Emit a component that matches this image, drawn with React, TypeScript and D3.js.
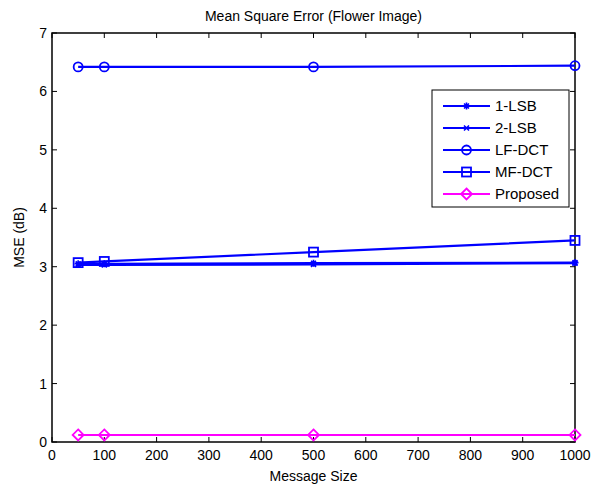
import React from 'react';
import * as d3 from 'd3';

// message sizes on the x axis
const sizes = [50, 100, 500, 1000];

// MSE values per method
const lsb1 = [3.05, 3.05, 3.06, 3.07];
const lsb2 = [3.03, 3.03, 3.04, 3.06];
const lfDct = [6.42, 6.42, 6.42, 6.44];
const mfDct = [3.07, 3.09, 3.25, 3.45];
const proposed = [0.12, 0.12, 0.12, 0.12];

const xTicks = [0, 100, 200, 300, 400, 500, 600, 700, 800, 900, 1000];
const yTicks = [0, 1, 2, 3, 4, 5, 6, 7];

const series = [
  { name: '1-LSB', values: lsb1, color: '#0000ff', marker: 'star' },
  { name: '2-LSB', values: lsb2, color: '#0000ff', marker: 'x' },
  { name: 'LF-DCT', values: lfDct, color: '#0000ff', marker: 'circle' },
  { name: 'MF-DCT', values: mfDct, color: '#0000ff', marker: 'square' },
  { name: 'Proposed', values: proposed, color: '#ff00ff', marker: 'diamond' },
];

const W = 601;
const H = 488;
const M = { top: 33, right: 26, bottom: 46, left: 52 };
const FONT = 'Liberation Sans, Arial, sans-serif';

function Marker({ type, x, y, color }: { type: string; x: number; y: number; color: string }) {
  const sw = 1.8;
  if (type === 'circle') return <circle cx={x} cy={y} r={4.5} fill="none" stroke={color} strokeWidth={sw} />;
  if (type === 'square') return <rect x={x - 4.5} y={y - 4.5} width={9} height={9} fill="none" stroke={color} strokeWidth={sw} />;
  if (type === 'diamond') return <path d={`M${x},${y - 5.5}L${x + 5.5},${y}L${x},${y + 5.5}L${x - 5.5},${y}Z`} fill="none" stroke={color} strokeWidth={sw} />;
  if (type === 'x') {
    const s = 2.5;
    return <path d={`M${x - s},${y - s}L${x + s},${y + s}M${x - s},${y + s}L${x + s},${y - s}`} stroke={color} strokeWidth={1.6} />;
  }
  // asterisk
  const s = 3.5;
  return (
    <path
      d={`M${x - s},${y}L${x + s},${y}M${x},${y - s}L${x},${y + s}M${x - s * 0.7},${y - s * 0.7}L${x + s * 0.7},${y + s * 0.7}M${x - s * 0.7},${y + s * 0.7}L${x + s * 0.7},${y - s * 0.7}`}
      stroke={color}
      strokeWidth={1.6}
    />
  );
}

export default function App() {
  const x = d3.scaleLinear().domain([0, 1000]).range([M.left, W - M.right]);
  const y = d3.scaleLinear().domain([0, 7]).range([H - M.bottom, M.top]);
  const line = d3
    .line<number>()
    .x((_, i) => x(sizes[i]))
    .y((d) => y(d));

  const x0 = M.left;
  const x1 = W - M.right;
  const y0 = H - M.bottom;
  const y1 = M.top;
  const tk = 5;

  // legend box
  const lg = { x: 432, y: 90, w: 137, h: 117 };
  const rowH = 22;

  return (
    <svg width={W} height={H} style={{ position: 'absolute', left: 0, top: 0, background: '#fff' }} fontFamily={FONT}>
      <rect width={W} height={H} fill="#fff" />
      {/* ticks */}
      {xTicks.map((t) => (
        <g key={'x' + t}>
          <line x1={x(t)} x2={x(t)} y1={y0} y2={y0 - tk} stroke="#000" />
          <line x1={x(t)} x2={x(t)} y1={y1} y2={y1 + tk} stroke="#000" />
          <text x={x(t)} y={y0 + 18} fontSize={14} textAnchor="middle" fill="#000">{t}</text>
        </g>
      ))}
      {yTicks.map((t) => (
        <g key={'y' + t}>
          <line x1={x0} x2={x0 + tk} y1={y(t)} y2={y(t)} stroke="#000" />
          <line x1={x1} x2={x1 - tk} y1={y(t)} y2={y(t)} stroke="#000" />
          <text x={x0 - 5} y={y(t) + 5} fontSize={14} textAnchor="end" fill="#000">{t}</text>
        </g>
      ))}
      <rect x={x0} y={y1} width={x1 - x0} height={y0 - y1} fill="none" stroke="#000" strokeWidth={1.5} />

      {/* series */}
      {series.map((s) => (
        <g key={s.name}>
          <path d={line(s.values) || ''} fill="none" stroke={s.color} strokeWidth={2.2} />
          {s.values.map((v, i) => (
            <Marker key={i} type={s.marker} x={x(sizes[i])} y={y(v)} color={s.color} />
          ))}
        </g>
      ))}

      {/* legend */}
      <rect x={lg.x} y={lg.y} width={lg.w} height={lg.h} fill="#fff" stroke="#000" strokeWidth={1} />
      {series.map((s, i) => {
        const cy = lg.y + 16 + i * rowH;
        return (
          <g key={'lg' + s.name}>
            <line x1={443} x2={490} y1={cy} y2={cy} stroke={s.color} strokeWidth={2.2} />
            <Marker type={s.marker} x={466.5} y={cy} color={s.color} />
            <text x={495} y={cy + 5} fontSize={15} fill="#000">{s.name}</text>
          </g>
        );
      })}

      <text x={(x0 + x1) / 2} y={21} fontSize={14} textAnchor="middle" fill="#000">Mean Square Error (Flower Image)</text>
      <text x={(x0 + x1) / 2} y={481} fontSize={14} textAnchor="middle" fill="#000">Message Size</text>
      <text transform={`translate(24,${(y0 + y1) / 2}) rotate(-90)`} fontSize={14} textAnchor="middle" fill="#000">MSE (dB)</text>
    </svg>
  );
}
